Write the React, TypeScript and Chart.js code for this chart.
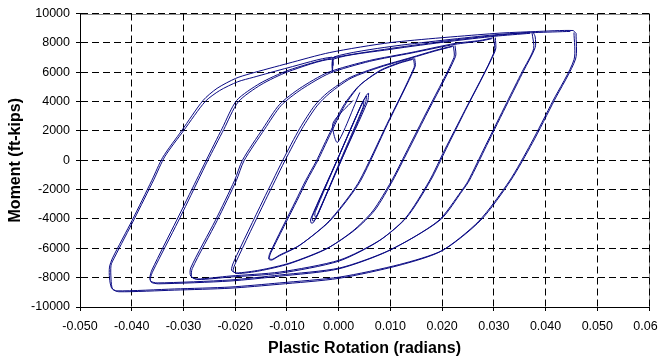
import { useEffect, useRef } from "react";
import { Chart, registerables } from "chart.js";

Chart.register(...registerables);

const FONT = "'Liberation Sans', Arial, Helvetica, sans-serif";
const LINE_COLOR = "#0a0a84";

// x axis tick labels (radians)
const xTickLabels = ["-0.050", "-0.040", "-0.030", "-0.020", "-0.010", "0.000", "0.010", "0.020", "0.030", "0.040", "0.050", "0.060"];
// y axis tick labels (ft-kips)
const yTickLabels = ["-10000", "-8000", "-6000", "-4000", "-2000", "0", "2000", "4000", "6000", "8000", "10000"];

// [plastic rotation (rad), moment (ft-kips)]
const loop6a: [number, number][] = [
  [0.0459, 8640], [0.0458, 6900], [0.0417, 4080], [0.0375, 1200], [0.0333, -1360],
  [0.0275, -4080], [0.0202, -6120], [0.0118, -7100], [0.0002, -7960], [-0.0114, -8360], [-0.021, -8640],
  [-0.0317, -8770], [-0.0429, -8900], [-0.0439, -8700], [-0.0443, -8020], [-0.0443, -7280], [-0.0437, -6660],
  [-0.0399, -4080], [-0.0361, -1360], [-0.034, 200], [-0.0303, 2040], [-0.0262, 4080], [-0.0235, 4900],
  [-0.0199, 5580], [-0.0171, 5900], [-0.0098, 6600], [-0.0017, 7340], [0.0101, 8020], [0.0302, 8640],
  [0.038, 8770], [0.0453, 8840], [0.0459, 8640],
];
const loop6b: [number, number][] = [
  [0.0455, 8700], [0.0455, 6850], [0.0414, 4030], [0.0372, 1150], [0.033, -1420],
  [0.0271, -4150], [0.0198, -6200], [0.0115, -7180], [0.0, -8050], [-0.0115, -8450], [-0.021, -8720],
  [-0.0317, -8850], [-0.0425, -8960], [-0.0437, -8780], [-0.044, -8100], [-0.044, -7150], [-0.0433, -6600],
  [-0.0395, -4000], [-0.0357, -1300], [-0.0336, 250], [-0.0299, 2050], [-0.0258, 4000], [-0.023, 4750],
  [-0.0195, 5350], [-0.0165, 5650], [-0.0098, 6300], [-0.0013, 7020], [-0.0011, 6450], [-0.0009, 7040],
  [0.0101, 7750], [0.0302, 8550], [0.038, 8700], [0.0448, 8780],
];
const loop5a: [number, number][] = [
  [0.0376, 8740], [0.038, 8400], [0.038, 7680], [0.0358, 6120], [0.0328, 4000], [0.0286, 1000], [0.0253, -1360],
  [0.024, -2040], [0.0196, -4080], [0.0099, -6120], [0.0002, -7340], [-0.0114, -7820], [-0.021, -8160],
  [-0.0351, -8360], [-0.0363, -8250], [-0.0365, -8000], [-0.0361, -7480], [-0.0313, -4080], [-0.0275, -1360],
  [-0.0256, 0], [-0.0225, 2180], [-0.0197, 4080], [-0.0152, 5240], [-0.0098, 6120], [-0.0017, 6940],
  [0.0101, 7620], [0.0215, 8160], [0.0302, 8500], [0.037, 8730],
];
const loop5b: [number, number][] = [
  [0.0374, 8660], [0.0377, 7600], [0.0355, 6050], [0.0325, 3930], [0.0283, 930], [0.025, -1430], [0.0237, -2110],
  [0.0192, -4150], [0.0095, -6200], [-0.0002, -7420], [-0.0114, -7900], [-0.021, -8230], [-0.0348, -8420],
  [-0.0362, -8320], [-0.0364, -8050], [-0.0359, -7550], [-0.031, -4150], [-0.0272, -1400], [-0.0253, -20],
  [-0.0222, 2100], [-0.0194, 3980], [-0.015, 5150], [-0.0098, 6030], [-0.0014, 6880], [-0.0012, 6000],
  [-0.001, 6890], [0.0101, 7560], [0.0215, 8100], [0.0302, 8450], [0.037, 8650],
];
const loop4a: [number, number][] = [
  [0.0303, 8360], [0.0303, 7480], [0.0245, 3400], [0.0208, 780], [0.0178, -1360], [0.0132, -3880],
  [0.008, -5440], [0.0002, -6800], [-0.0114, -7620], [-0.021, -7890], [-0.0274, -8090], [-0.0286, -7900],
  [-0.0286, -7340], [-0.0238, -4080], [-0.0201, -1360], [-0.0186, 0], [-0.0146, 2180], [-0.0114, 3810],
  [-0.0075, 4900], [-0.0021, 5980], [0.006, 6800], [0.014, 7340], [0.0225, 7960], [0.0273, 8160], [0.0298, 8340],
];
const loop4b: [number, number][] = [
  [0.03, 8300], [0.0301, 7400], [0.0243, 3330], [0.0205, 710], [0.0175, -1430], [0.0129, -3950],
  [0.0077, -5520], [0.0, -6880], [-0.0114, -7700], [-0.021, -7960], [-0.0272, -8130], [-0.0284, -7950],
  [-0.0283, -7380], [-0.0235, -4120], [-0.0198, -1400], [-0.0183, -40], [-0.0143, 2120], [-0.0111, 3740],
  [-0.0072, 4830], [-0.0018, 5920], [0.006, 6740], [0.014, 7300], [0.0225, 7900], [0.0273, 8120], [0.0296, 8280],
];
const loop3a: [number, number][] = [
  [0.0225, 7820], [0.0226, 7070], [0.0168, 3000], [0.0133, 560], [0.0105, -1360],
  [0.007, -3400], [0.0031, -4760], [-0.0021, -5980], [-0.0094, -7000], [-0.0152, -7480], [-0.0198, -7680],
  [-0.0207, -7500], [-0.0203, -6940], [-0.0146, -2720], [-0.0127, -1360], [-0.0108, 0], [-0.0075, 2180],
  [-0.0046, 3740], [-0.0021, 4620], [0.0022, 5640], [0.008, 6390], [0.014, 7000], [0.0186, 7480], [0.0222, 7800],
];
const loop3b: [number, number][] = [
  [0.0222, 7760], [0.0223, 7000], [0.0165, 2940], [0.013, 500], [0.0102, -1420],
  [0.0066, -3460], [0.0027, -4830], [-0.0024, -6050], [-0.0096, -7060], [-0.0153, -7540], [-0.0196, -7720],
  [-0.0204, -7540], [-0.0199, -6980], [-0.0142, -2760], [-0.0123, -1400], [-0.0104, -40], [-0.0071, 2140],
  [-0.0042, 3700], [-0.0017, 4580], [0.0024, 5590], [0.008, 6340], [0.014, 6960], [0.0186, 7440], [0.022, 7750],
];
const loop2a: [number, number][] = [
  [0.0147, 6940], [0.0148, 6390], [0.0095, 2500], [0.0043, -1360], [0.0012, -2920],
  [-0.0021, -4280], [-0.0075, -5780], [-0.0114, -6460], [-0.0128, -6750], [-0.0134, -6700], [-0.0131, -6300],
  [-0.008, -2720], [-0.0061, -1360], [-0.004, 0], [-0.0017, 1700], [0.0012, 3740], [0.0041, 5100], [0.008, 6120],
  [0.0118, 6660], [0.0145, 6930],
];
const loop2b: [number, number][] = [
  [0.0145, 6880], [0.0146, 6330], [0.0093, 2440], [0.004, -1420], [0.0009, -2980],
  [-0.0024, -4340], [-0.0077, -5840], [-0.0115, -6520], [-0.0129, -6800], [-0.0135, -6740], [-0.0133, -6340],
  [-0.0083, -2760], [-0.0064, -1400], [-0.0043, -40], [-0.002, 1660], [0.0009, 3700], [0.0039, 5060], [0.008, 6080],
  [0.0118, 6620], [0.0143, 6870],
];
const loop1a: [number, number][] = [
  [0.0058, 4560], [0.0056, 4000], [0.0005, 0], [-0.0045, -4000], [-0.0049, -4250], [-0.0053, -4280],
  [-0.0054, -4000], [-0.0003, 0], [0.0047, 4000], [0.0055, 4500], [0.0058, 4560],
];
const loop1b: [number, number][] = [
  [0.0054, 4380], [0.0052, 3900], [0.0004, -100], [-0.0043, -3900], [-0.0047, -4120], [-0.005, -4130],
  [-0.0051, -3850], [-0.0002, 100], [0.0046, 3950], [0.0054, 4380],
];
const loop1c: [number, number][] = [
  [0.0049, 4050], [0.0047, 3600], [0.0003, -50], [-0.0039, -3600], [-0.0044, -3850], [-0.0046, -3820],
  [-0.0045, -3500], [-0.0001, 150], [0.0043, 3700], [0.0049, 4050],
];
const initialPath: [number, number][] = [
  [0.0028, 4080], [-0.0011, 2520], [-0.0002, 1220], [0.0041, 4620],
];

const allLoops = [loop6a, loop6b, loop5a, loop5b, loop4a, loop4b, loop3a, loop3b, loop2a, loop2b, loop1a, loop1b, loop1c, initialPath];

const framePlugin = {
  id: "frame",
  beforeDraw(chart: any) {
    const { ctx, chartArea } = chart;
    ctx.save();
    ctx.fillStyle = "#ffffff";
    ctx.fillRect(0, 0, chart.width, chart.height);
    ctx.strokeStyle = "#8c8c8c";
    ctx.lineWidth = 1;
    const l = Math.round(chartArea.left) + 0.5;
    const t = Math.round(chartArea.top) + 0.5;
    const r = Math.round(chartArea.right) + 0.5;
    const b = Math.round(chartArea.bottom) + 0.5;
    ctx.strokeRect(l, t, r - l, b - t);
    ctx.restore();
  },
};

export default function App() {
  const ref = useRef<HTMLCanvasElement | null>(null);
  useEffect(() => {
    if (!ref.current) return;
    const chart = new Chart(ref.current, {
      type: "scatter",
      data: {
        datasets: allLoops.map((loop) => ({
          data: loop.map(([x, y]) => ({ x, y })),
          showLine: true,
          borderColor: LINE_COLOR,
          borderWidth: 1,
          pointRadius: 0,
          pointHoverRadius: 0,
          tension: 0.25,
          fill: false,
        })),
      },
      options: {
        animation: false,
        responsive: false,
        devicePixelRatio: 1,
        events: [],
        layout: { padding: { left: 0, right: 31, top: 13, bottom: 0 } },
        plugins: { legend: { display: false }, tooltip: { enabled: false } },
        scales: {
          x: {
            type: "linear",
            min: -0.05,
            max: 0.06,
            afterFit: (s: any) => { s.height = 53; },
            ticks: {
              stepSize: 0.01,
              autoSkip: false,
              maxRotation: 0,
              padding: 8,
              color: "#000",
              font: { family: FONT, size: 12.5 },
              callback: (_v: any, i: number) => xTickLabels[i],
            },
            grid: {
              color: "#000",
              lineWidth: 1,
              tickLength: 4,
              tickColor: "#000",
              tickBorderDash: [1, 0],
            },
            border: { display: true, color: "#000", width: 1, dash: [7, 4] },
            title: {
              display: true,
              text: "Plastic Rotation (radians)",
              color: "#000",
              font: { family: FONT, size: 16, weight: "bold" },
              padding: { top: 0, bottom: 2 },
            },
          },
          y: {
            type: "linear",
            min: -10000,
            max: 10000,
            afterFit: (s: any) => { s.width = 80; },
            ticks: {
              stepSize: 2000,
              padding: 6,
              color: "#000",
              font: { family: FONT, size: 12.5 },
              callback: (_v: any, i: number) => yTickLabels[i],
            },
            grid: {
              color: "#000",
              lineWidth: 1,
              tickLength: 4,
              tickColor: "#000",
              tickBorderDash: [1, 0],
            },
            border: { display: true, color: "#000", width: 1, dash: [7, 4] },
            title: {
              display: true,
              text: "Moment (ft-kips)",
              color: "#000",
              font: { family: FONT, size: 16, weight: "bold" },
              padding: { top: 6, bottom: 0 },
            },
          },
        },
      },
      plugins: [framePlugin],
    } as any);
    return () => chart.destroy();
  }, []);
  return (
    <div style={{ position: "fixed", left: 0, top: 0, width: 658, height: 360, overflow: "hidden", background: "#fff" }}>
      <canvas ref={ref} width={680} height={360} style={{ display: "block" }} />
    </div>
  );
}
